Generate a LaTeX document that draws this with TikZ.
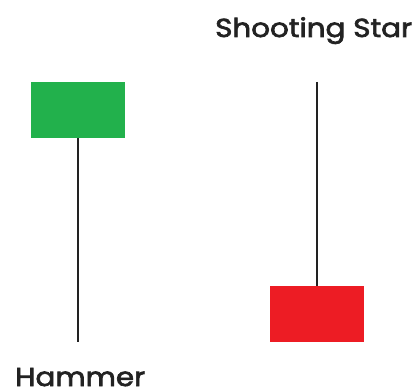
\documentclass[tikz,border=0pt]{standalone}
\usepackage{fontspec}
\setmainfont{Poppins}
\newfontfamily\lblfont{Poppins}[FakeBold=2.6,FakeStretch=1.13]
\definecolor{bull}{HTML}{22B14C}
\definecolor{bear}{HTML}{ED1C24}
\definecolor{wick}{HTML}{222222}
\begin{document}
\begin{tikzpicture}[x=1pt,y=-1pt,
  body/.style={draw=none,minimum width=94pt,minimum height=56pt,inner sep=0pt},
  wickline/.style={draw=wick,line width=1.6pt},
  lbl/.style={font=\lblfont\fontsize{26}{26}\selectfont,inner sep=0pt,anchor=base west,text=wick}]
\useasboundingbox (0,0) rectangle (418,390);
\node[body,fill=bull] (g) at (78,110) {};
\coordinate (gb) at (78,342);
\draw[wickline] (g.south) -- (gb);
\node[body,fill=bear] (r) at (317,314) {};
\coordinate (rt) at (317,82);
\draw[wickline] (rt) -- (r.north);
\node[lbl] (t1) at (215,37) {Shooting Star};
\node[lbl] (t2) at (15,386) {Hammer};
\end{tikzpicture}
\end{document}
